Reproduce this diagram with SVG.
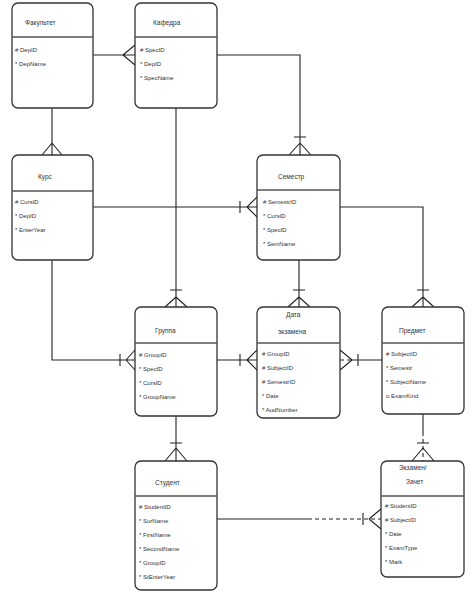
<svg xmlns="http://www.w3.org/2000/svg" width="474" height="593" viewBox="0 0 474 593">
<style>
.box{fill:#fff;stroke:#333;stroke-width:1.3}
.div{stroke:#555;stroke-width:1.3}
.t{font-family:"Liberation Sans Narrow","Liberation Sans",Arial,sans-serif;font-size:6px;fill:#333}
.h{font-size:6.5px}
.c{fill:none;stroke:#222;stroke-width:1.1}
.d{stroke-dasharray:4 3}
</style>
<rect width="474" height="593" fill="#fff"/>
<g id="connectors">
<path class="c" d="M93,55H135M123,55L135,45M123,55L135,65"/>
<path class="c" d="M217,55H300V155M294,137H306M300,143L289,155M300,143L311,155"/>
<path class="c" d="M52,108V155M52,143L42,155M52,143L62,155"/>
<path class="c" d="M93,207H257M240,201V213M247,207L257,197M247,207L257,217"/>
<path class="c" d="M176,108V307M170,290H182M176,297L165,307M176,297L187,307"/>
<path class="c" d="M52,260V360H135M120,354V366M126,360L135,350M126,360L135,370"/>
<path class="c" d="M299,260V307M293,290H305M299,297L288,307M299,297L310,307"/>
<path class="c" d="M340,207H423V307M417,290H429M423,297L412,307M423,297L434,307"/>
<path class="c" d="M217,360H257M240,354V366M247,360L257,350M247,360L257,370"/>
<path class="c d" d="M340,360H352"/>
<path class="c" d="M352,360H382M358,354V366M352,360L340,350M352,360L340,370"/>
<path class="c" d="M176,416V461M170,443H182M176,448L165,461M176,448L187,461"/>
<path class="c" d="M423,414V432"/>
<path class="c d" d="M423,432V461"/>
<path class="c" d="M417,443H429M423,448L412,461M423,448L434,461"/>
<path class="c" d="M217,519H308"/>
<path class="c d" d="M308,519H381"/>
<path class="c" d="M363,513V525M369,519L381,509M369,519L381,529"/>
</g>
<g id="fakultet">
<rect class="box" x="12" y="3" width="81" height="105" rx="6"/>
<line class="div" x1="12" y1="37" x2="93" y2="37"/>
<text class="t h" x="25" y="25">Факультет</text>
<text class="t" x="15" y="52"># DepID</text>
<text class="t" x="15" y="66">* DepName</text>
</g>
<g id="kafedra">
<rect class="box" x="135" y="3" width="82" height="105" rx="6"/>
<line class="div" x1="135" y1="37" x2="217" y2="37"/>
<text class="t h" x="153" y="25">Кафедра</text>
<text class="t" x="140" y="52"># SpecID</text>
<text class="t" x="140" y="66">* DepID</text>
<text class="t" x="140" y="80">* SpecName</text>
</g>
<g id="kurs">
<rect class="box" x="12" y="155" width="81" height="105" rx="6"/>
<line class="div" x1="12" y1="191" x2="93" y2="191"/>
<text class="t h" x="38" y="179">Курс</text>
<text class="t" x="15" y="204"># CursID</text>
<text class="t" x="15" y="218">* DepID</text>
<text class="t" x="15" y="232">* EnterYear</text>
</g>
<g id="semestr">
<rect class="box" x="257" y="155" width="83" height="105" rx="6"/>
<line class="div" x1="257" y1="190" x2="340" y2="190"/>
<text class="t h" x="278" y="179">Семестр</text>
<text class="t" x="263" y="204"># SemestrID</text>
<text class="t" x="263" y="218">* CursID</text>
<text class="t" x="263" y="232">* SpecID</text>
<text class="t" x="263" y="246">* SemName</text>
</g>
<g id="gruppa">
<rect class="box" x="135" y="307" width="82" height="109" rx="6"/>
<line class="div" x1="135" y1="343" x2="217" y2="343"/>
<text class="t h" x="155" y="333">Группа</text>
<text class="t" x="139" y="357"># GroupID</text>
<text class="t" x="139" y="371">* SpecID</text>
<text class="t" x="139" y="385">* CursID</text>
<text class="t" x="139" y="399">* GroupName</text>
</g>
<g id="data-ekzamena">
<rect class="box" x="257" y="307" width="83" height="111" rx="6"/>
<line class="div" x1="257" y1="343" x2="340" y2="343"/>
<text class="t h" x="286" y="317">Дата</text>
<text class="t h" x="278" y="334">экзамена</text>
<text class="t" x="262" y="356"># GroupID</text>
<text class="t" x="262" y="370"># SubjectID</text>
<text class="t" x="262" y="384"># SemestrID</text>
<text class="t" x="262" y="398">* Date</text>
<text class="t" x="262" y="412">* AudNumber</text>
</g>
<g id="predmet">
<rect class="box" x="382" y="307" width="82" height="107" rx="6"/>
<line class="div" x1="382" y1="343" x2="464" y2="343"/>
<text class="t h" x="399" y="333">Предмет</text>
<text class="t" x="386" y="356"># SubjectID</text>
<text class="t" x="386" y="370">* Semestr</text>
<text class="t" x="386" y="384">* SubjectName</text>
<text class="t" x="386" y="398">o ExamKind</text>
</g>
<g id="student">
<rect class="box" x="135" y="461" width="82" height="129" rx="6"/>
<line class="div" x1="135" y1="496" x2="217" y2="496"/>
<text class="t h" x="155" y="485">Студент</text>
<text class="t" x="139" y="509"># StudentID</text>
<text class="t" x="139" y="523">* SurName</text>
<text class="t" x="139" y="537">* FirstName</text>
<text class="t" x="139" y="551">* SecondName</text>
<text class="t" x="139" y="565">* GroupID</text>
<text class="t" x="139" y="579">* StEnterYear</text>
</g>
<g id="ekzamen-zachet">
<rect class="box" x="381" y="461" width="83" height="116" rx="6"/>
<line class="div" x1="381" y1="496" x2="464" y2="496"/>
<text class="t h" x="399" y="470">Экзамен/</text>
<text class="t h" x="406" y="484">Зачет</text>
<text class="t" x="385" y="508"># StudentID</text>
<text class="t" x="385" y="522"># SubjectID</text>
<text class="t" x="385" y="536">* Date</text>
<text class="t" x="385" y="550">* ExamType</text>
<text class="t" x="385" y="564">* Mark</text>
</g>
</svg>
